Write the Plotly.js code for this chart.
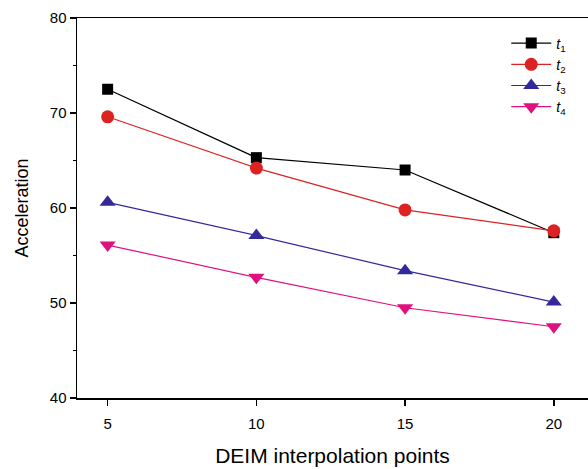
<!DOCTYPE html>
<html>
<head>
<meta charset="utf-8">
<script src="https://cdn.plot.ly/plotly-3.0.1.min.js"></script>
<style>body{margin:0;padding:0;background:#fff;}#chart{width:588px;height:469px;}</style>
</head>
<body>
<div id="chart"></div>
<script>
const xPoints = [5, 10, 15, 20];
const t1 = [72.5, 65.3, 64.0, 57.4];
const t2 = [69.6, 64.2, 59.8, 57.6];
const t3 = [60.6, 57.1, 53.4, 50.1];
const t4 = [56.1, 52.7, 49.5, 47.5];
const seriesNames = ['<i>t</i><sub>1</sub>', '<i>t</i><sub>2</sub>', '<i>t</i><sub>3</sub>', '<i>t</i><sub>4</sub>'];
const colors = ['#000000', '#dd2222', '#33299a', '#e0107f'];
const symbols = ['square', 'circle', 'triangle-up', 'triangle-down'];
const sizes = [11, 13, 14, 14];
const allSeries = [t1, t2, t3, t4];

const traces = allSeries.map((ys, i) => ({
  x: xPoints, y: ys, name: seriesNames[i], type: 'scatter', mode: 'lines+markers',
  line: {color: colors[i], width: 1.2},
  marker: {symbol: symbols[i], size: sizes[i], color: colors[i]}
}));

const layout = {
  width: 588, height: 469,
  margin: {l: 77, r: 0, t: 18, b: 71},
  paper_bgcolor: '#fff', plot_bgcolor: '#fff',
  font: {family: 'Liberation Sans, Arial, sans-serif', color: '#000', size: 15},
  showlegend: true,
  legend: {x: 0.84, y: 0.975, xanchor: 'left', yanchor: 'top', bgcolor: 'rgba(0,0,0,0)',
           font: {size: 14}, tracegroupgap: 0, itemwidth: 40},
  xaxis: {
    range: [3.97, 21.15], tickvals: xPoints, ticktext: ['5','10','15','20'],
    showgrid: false, zeroline: false, showline: true, linecolor: '#000', linewidth: 1.5,
    mirror: true, ticks: 'outside', ticklen: 6, tickwidth: 1.5, tickcolor: '#000',
    tickfont: {size: 15}, ticklabelstandoff: 5,
    title: {text: 'DEIM interpolation points', font: {size: 21}, standoff: 18}
  },
  yaxis: {
    range: [40, 80], tickvals: [40, 50, 60, 70, 80],
    showgrid: false, zeroline: false, showline: true, linecolor: '#000', linewidth: 1.5,
    ticks: 'outside', ticklen: 6, tickwidth: 1.5, tickcolor: '#000',
    minor: {tickvals: [45, 55, 65, 75], ticks: 'outside', ticklen: 3, tickcolor: '#000', tickwidth: 1},
    tickfont: {size: 15},
    title: {text: 'Acceleration', font: {size: 18}, standoff: 16}
  }
};
Plotly.newPlot('chart', traces, layout, {displayModeBar: false, staticPlot: true});
</script>
</body>
</html>
